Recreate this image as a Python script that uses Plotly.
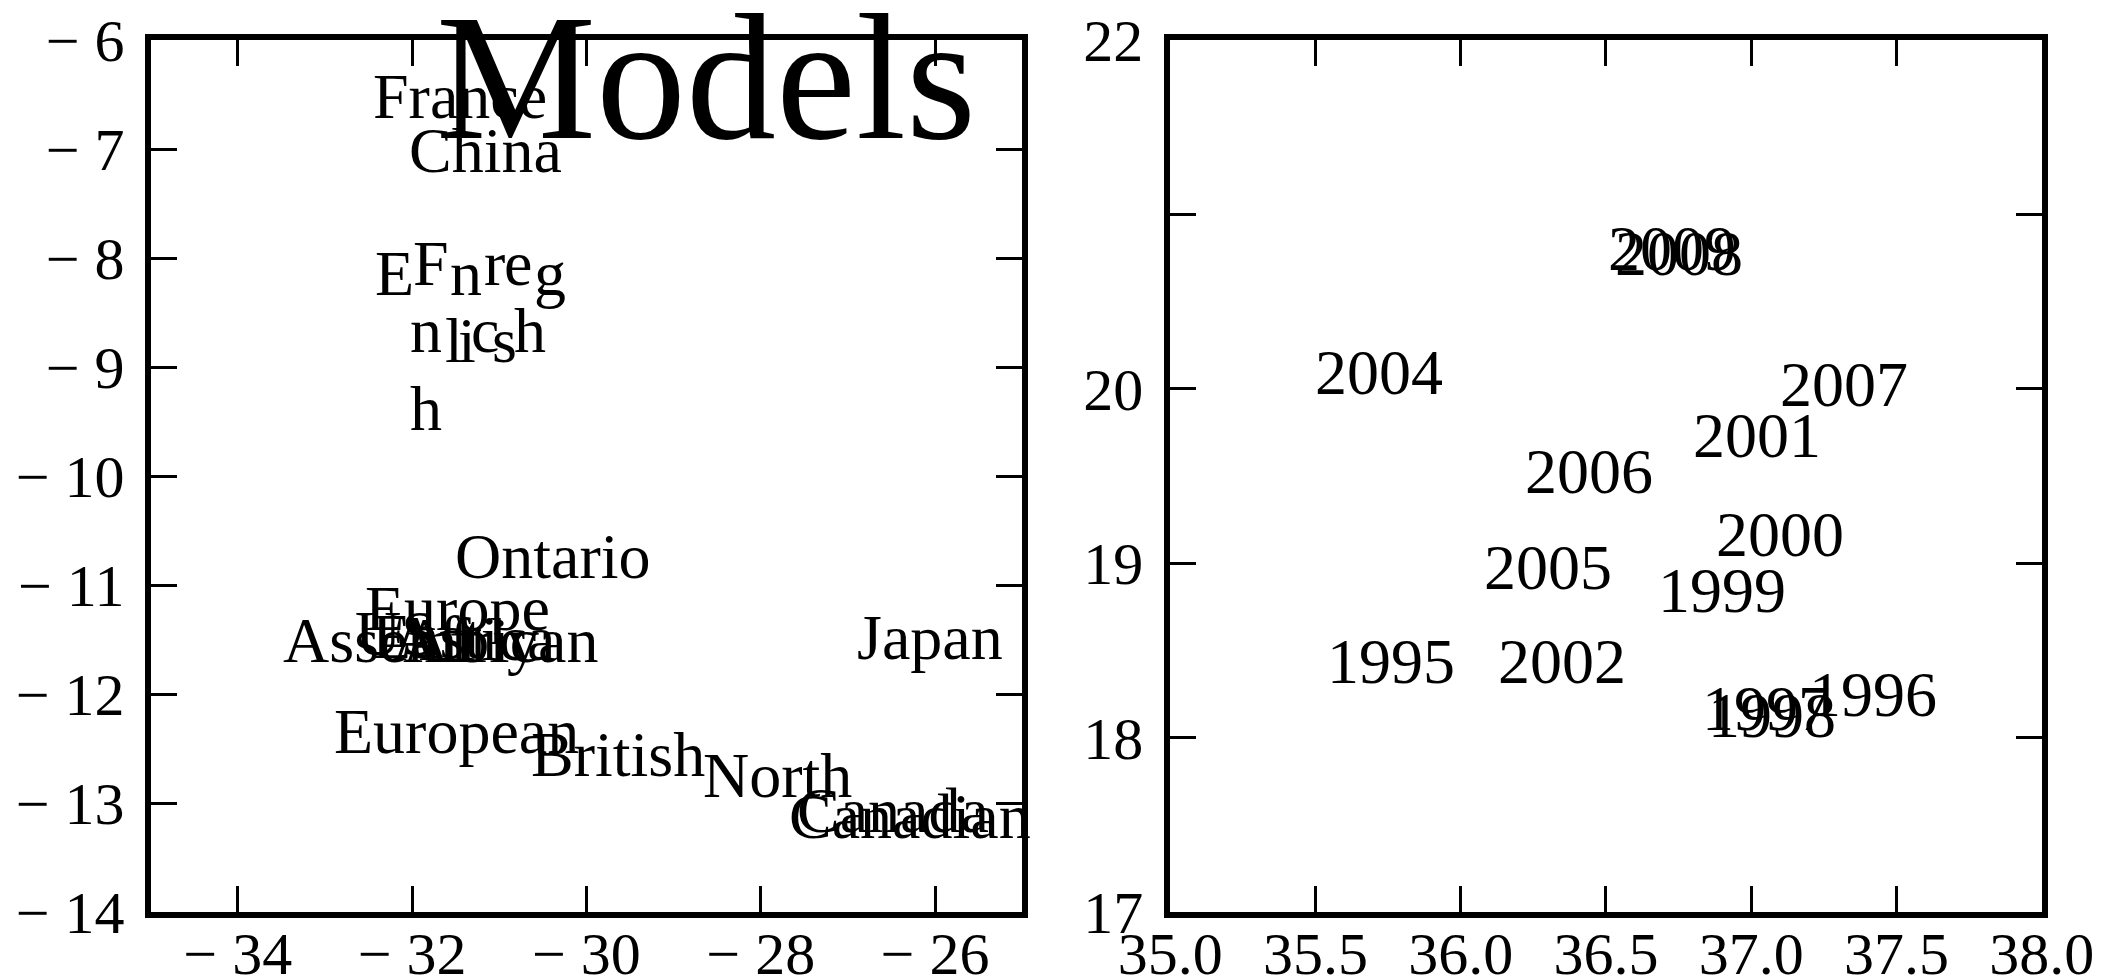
import plotly.graph_objects as go

# ---- word positions (left-hand panel) ----
words = ["France", "China", "English", "French", "Ontario", "Europe", "Assembly",
         "US", "East", "Africa", "African", "European", "British", "North",
         "Canada", "Canadian", "Japan", "South"]
words_x = [-32.45, -32.04, -32.43, -31.99, -31.51, -32.54, -33.48,
           -32.65, -32.46, -32.23, -32.10, -32.90, -30.63, -28.66,
           -27.58, -27.68, -26.90, -28.84]
words_y = [-6.72, -7.21, -8.34, -8.25, -10.94, -11.41, -11.71,
           -11.64, -11.67, -11.69, -11.71, -12.54, -12.75, -12.95,
           -13.27, -13.32, -11.68, -14.06]

# ---- year positions (right-hand panel) ----
years = ["2009", "2008", "2004", "2007", "2001", "2006", "2000", "2005",
         "1999", "1995", "2002", "1996", "1997", "1998"]
years_x = [36.507, 36.531, 35.50, 37.10, 36.80, 36.22, 36.88, 36.08,
           36.68, 35.54, 36.13, 37.20, 36.83, 36.85]
years_y = [20.683, 20.654, 19.97, 19.90, 19.61, 19.40, 19.04, 18.85,
           18.72, 18.31, 18.31, 18.12, 18.04, 18.00]

# ---- axis ticks ----
left_xticks = [-34, -32, -30, -28, -26]
left_xticklabels = ["− 34", "− 32", "− 30", "− 28", "− 26"]
left_yticks = [-6, -7, -8, -9, -10, -11, -12, -13, -14]
left_yticklabels = ["− 6", "− 7", "− 8", "− 9", "− 10", "− 11", "− 12", "− 13", "− 14"]
right_xticks = [35.0, 35.5, 36.0, 36.5, 37.0, 37.5, 38.0]
right_xticklabels = ["35.0", "35.5", "36.0", "36.5", "37.0", "37.5", "38.0"]
right_yticks = [17, 18, 19, 20, 21, 22]
right_yticklabels = ["17", "18", "19", "20", "", "22"]

TITLE = "Models"

FONT = "Liberation Serif"
LABEL_SIZE = 64
TICK_SIZE = 60
TITLE_SIZE = 180
DESCENT = 0.216  # baseline offset of the font, in em

# scattered glyph layout used for two of the words (pixel offsets per character)
glyph_layout = {
    "English": [(0, 0), (75, 0), (159, 0), (70, 67), (83, 67), (117, 67), (35, 135)],
    "French": [(0, 0), (71, 0), (91, 0), (-3, 67), (58, 67), (101, 67)],
}

W, H = 2109, 980
fig = go.Figure()

# invisible traces so both subplots exist
fig.add_trace(go.Scatter(x=words_x, y=words_y, mode="markers",
                         marker=dict(opacity=0), hoverinfo="skip",
                         xaxis="x", yaxis="y", showlegend=False))
fig.add_trace(go.Scatter(x=years_x, y=years_y, mode="markers",
                         marker=dict(opacity=0), hoverinfo="skip",
                         xaxis="x2", yaxis="y2", showlegend=False))

annotations = []


def label(text, x, y, xref, yref, dx=0, dy=0):
    annotations.append(dict(
        text=text, x=x, y=y, xref=xref, yref=yref,
        xanchor="left", yanchor="bottom", showarrow=False,
        borderpad=0, borderwidth=0,
        xshift=dx, yshift=-dy - DESCENT * LABEL_SIZE,
        font=dict(family=FONT, size=LABEL_SIZE, color="black"),
    ))


for w, x, y in zip(words, words_x, words_y):
    if w in glyph_layout:
        for ch, (dx, dy) in zip(w, glyph_layout[w]):
            label(ch, x, y, "x", "y", dx, dy)
    else:
        label(w, x, y, "x", "y")

for t, x, y in zip(years, years_x, years_y):
    label(t, x, y, "x2", "y2")

annotations.append(dict(
    text=TITLE, x=706 / W, y=1 - (138 + DESCENT * TITLE_SIZE) / H,
    xref="paper", yref="paper", xanchor="center", yanchor="bottom",
    showarrow=False, borderpad=0, borderwidth=0,
    font=dict(family=FONT, size=TITLE_SIZE, color="black"),
))

axis_common = dict(
    showgrid=False, zeroline=False, showline=True, linecolor="black",
    linewidth=6, mirror="ticks", ticks="inside", ticklen=26, tickwidth=3,
    tickcolor="black", tickmode="array", automargin=False,
    tickfont=dict(family=FONT, size=TICK_SIZE, color="black"),
)

y_dom = [68 / H, 940 / H]
fig.update_layout(
    width=W, height=H,
    margin=dict(l=0, r=0, t=0, b=0, pad=0, autoexpand=False),
    paper_bgcolor="white", plot_bgcolor="white",
    xaxis=dict(axis_common, domain=[150.6 / W, 1022.2 / W], range=[-35, -25],
               tickvals=left_xticks, ticktext=left_xticklabels,
               ticklabelstandoff=-16, anchor="y"),
    yaxis=dict(axis_common, domain=y_dom, range=[-14, -6],
               tickvals=left_yticks, ticktext=left_yticklabels,
               ticklabelstandoff=8, anchor="x"),
    xaxis2=dict(axis_common, domain=[1170.2 / W, 2041.7 / W], range=[35, 38],
                tickvals=right_xticks, ticktext=right_xticklabels,
                ticklabelstandoff=-16, anchor="y2"),
    yaxis2=dict(axis_common, domain=y_dom, range=[17, 22],
                tickvals=right_yticks, ticktext=right_yticklabels,
                ticklabelstandoff=9, anchor="x2"),
    annotations=annotations,
    showlegend=False,
)

fig.write_html("out.html")
